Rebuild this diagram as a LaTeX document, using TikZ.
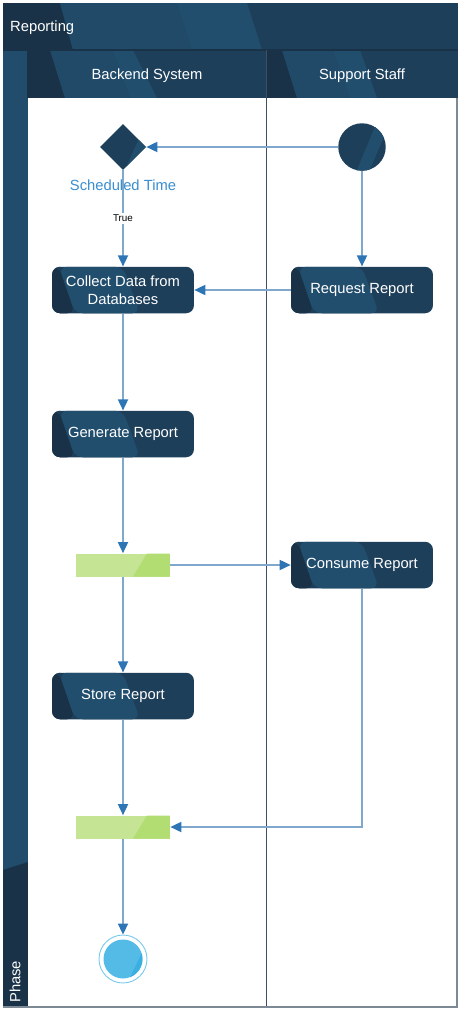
\documentclass[tikz,border=0pt]{standalone}
\usepackage{fontspec}
\setmainfont{Liberation Sans}
\usepackage{xcolor}
\usetikzlibrary{positioning, shapes.geometric, arrows.meta}

\definecolor{navy}{RGB}{30,63,90}
\definecolor{navydark}{RGB}{25,50,71}
\definecolor{navylight}{RGB}{34,78,110}
\definecolor{flowline}{RGB}{128,168,204}
\definecolor{flowtip}{RGB}{46,117,182}
\definecolor{barlight}{RGB}{197,228,148}
\definecolor{bargreen}{RGB}{178,221,115}
\definecolor{endlight}{RGB}{84,187,231}
\definecolor{enddark}{RGB}{58,176,226}
\definecolor{labelblue}{RGB}{59,142,208}
\definecolor{lanegray}{RGB}{60,80,98}
\definecolor{framegray}{RGB}{125,138,150}

\newcommand\bodyfont{\fontsize{8.4}{10.2}\selectfont}
\newcommand\truefont{\fontsize{5.6}{6.5}\selectfont}

\tikzset{
  action/.style={rectangle, rounded corners=0.16cm, fill=navy, text=white,
    minimum width=2.84cm, minimum height=0.93cm, inner sep=0pt, align=center,
    font=\bodyfont,
    path picture={
      \fill[navydark] (path picture bounding box.south west)
        -- ([xshift=0.46cm]path picture bounding box.south west)
        -- ([xshift=0.14cm]path picture bounding box.north west)
        -- (path picture bounding box.north west) -- cycle;
      \fill[navylight] ([xshift=0.46cm]path picture bounding box.south west)
        -- ([xshift=1.76cm]path picture bounding box.south west)
        -- ([xshift=1.42cm]path picture bounding box.north west)
        -- ([xshift=0.14cm]path picture bounding box.north west) -- cycle;
    }},
  decision/.style={diamond, aspect=1, fill=navy, minimum width=0.92cm,
    minimum height=0.92cm, inner sep=0pt,
    path picture={
      \fill[navylight] ([shift={(0.02cm,-0.5cm)}]path picture bounding box.center)
        -- ([shift={(0.3cm,-0.5cm)}]path picture bounding box.center)
        -- ([shift={(0.75cm,0.5cm)}]path picture bounding box.center)
        -- ([shift={(0.47cm,0.5cm)}]path picture bounding box.center) -- cycle;
    }},
  start/.style={circle, fill=navy, minimum size=0.95cm, inner sep=0pt,
    path picture={
      \fill[navylight] ([shift={(-0.12cm,-0.5cm)}]path picture bounding box.center)
        -- ([shift={(0.14cm,-0.5cm)}]path picture bounding box.center)
        -- ([shift={(0.56cm,0.5cm)}]path picture bounding box.center)
        -- ([shift={(0.3cm,0.5cm)}]path picture bounding box.center) -- cycle;
    }},
  bar/.style={rectangle, fill=barlight, minimum width=1.88cm, minimum height=0.46cm,
    inner sep=0pt,
    path picture={
      \fill[bargreen] ([xshift=-0.74cm]path picture bounding box.south east)
        -- (path picture bounding box.south east)
        -- (path picture bounding box.north east)
        -- ([xshift=-0.46cm]path picture bounding box.north east) -- cycle;
    }},
  finish/.style={circle, draw=endlight!80, line width=0.5pt, minimum size=0.96cm,
    inner sep=0pt,
    path picture={
      \fill[endlight] (path picture bounding box.center) circle (0.39cm);
      \begin{scope}
        \clip (path picture bounding box.center) circle (0.39cm);
        \fill[enddark] ([shift={(0.08cm,-0.5cm)}]path picture bounding box.center)
          -- ([shift={(0.6cm,-0.5cm)}]path picture bounding box.center)
          -- ([shift={(0.6cm,0.5cm)}]path picture bounding box.center)
          -- ([shift={(0.55cm,0.5cm)}]path picture bounding box.center) -- cycle;
      \end{scope}
    }},
  flow/.style={->, draw=flowline, line width=1pt},
  heading/.style={text=white, font=\bodyfont}
}

\begin{document}
\begin{tikzpicture}[x=0.02cm, y=-0.02cm,
    >={Triangle[length=0.22cm, width=0.2cm, color=flowtip]}]
    \useasboundingbox (0,0) rectangle (459,1015);

    % Title band
    \fill[navy] (3,3) rectangle (458,50);
    \fill[navydark] (3,3) -- (60,3) -- (73,50) -- (3,50) -- cycle;
    \fill[navylight!75!navy] (60,3) -- (177,3) -- (192,50) -- (73,50) -- cycle;
    \fill[navylight] (177,3) -- (247,3) -- (262,50) -- (192,50) -- cycle;
    \node[heading, anchor=west] (title) at (4,28) {Reporting};

    % Lane headers
    \fill[navy] (28,50) rectangle (458,98);
    \fill[navydark] (28,50) -- (50,50) -- (65,98) -- (28,98) -- cycle;
    \fill[navylight!75!navy] (50,50) -- (113,50) -- (130,98) -- (65,98) -- cycle;
    \fill[navylight] (113,50) -- (133,50) -- (157,98) -- (130,98) -- cycle;
    \fill[navydark] (266,50) -- (282,50) -- (297,98) -- (266,98) -- cycle;
    \fill[navylight!75!navy] (282,50) -- (333,50) -- (350,98) -- (297,98) -- cycle;
    \fill[navylight] (333,50) -- (360,50) -- (377,98) -- (350,98) -- cycle;
    \node[heading] (backend) at (147,76) {Backend System};
    \node[heading] (staff) at (362,76) {Support Staff};

    % Phase strip
    \fill[navylight!85!navy] (3,50) rectangle (28,870);
    \fill[navydark] (3,870) -- (28,862) -- (28,1007) -- (3,1007) -- cycle;
    \node[heading, rotate=90, anchor=west] (phase) at (15,1009) {Phase};

    % Lanes
    \fill[white] (28,98) rectangle (457,1007);
    \draw[navydark, line width=0.6pt] (3,50) -- (458,50);
    \draw[navydark, line width=0.6pt] (28,50) -- (28,98);
    \draw[lanegray, line width=0.5pt] (266,50) -- (266,1007);
    \draw[framegray, line width=1.2pt] (3,1007) -- (457,1007) -- (457,98);

    % Activities
    \node[decision] (sched) at (123,147) {};
    \node[below=0.06cm of sched, text=labelblue, font=\bodyfont] (schedtxt) {Scheduled Time};
    \node[start] (begin) at (362,147) {};
    \node[action] (collect) at (123,290) {Collect Data from\\Databases};
    \node[action] (request) at (362,290) {Request Report};
    \node[action] (generate) at (123,434) {Generate Report};
    \node[bar] (fork) at (123,565) {};
    \node[action] (consume) at (362,565) {Consume Report};
    \node[action] (store) at (123,696) {Store Report};
    \node[bar] (join) at (123,827) {};
    \node[finish] (final) at (123,959) {};

    % Connectors
    \draw[flow] (begin) -- (sched);
    \draw[flow] (begin) -- (request);
    \draw[flow] (sched) -- node[fill=white, text=black, font=\truefont, inner sep=1pt] (truelbl) {True} (collect);
    \draw[flow] (request) -- (collect);
    \draw[flow] (collect) -- (generate);
    \draw[flow] (generate) -- (fork);
    \draw[flow] (fork) -- (consume);
    \draw[flow] (fork) -- (store);
    \draw[flow] (store) -- (join);
    \draw[flow] (consume) |- (join);
    \draw[flow] (join) -- (final);
\end{tikzpicture}
\end{document}
